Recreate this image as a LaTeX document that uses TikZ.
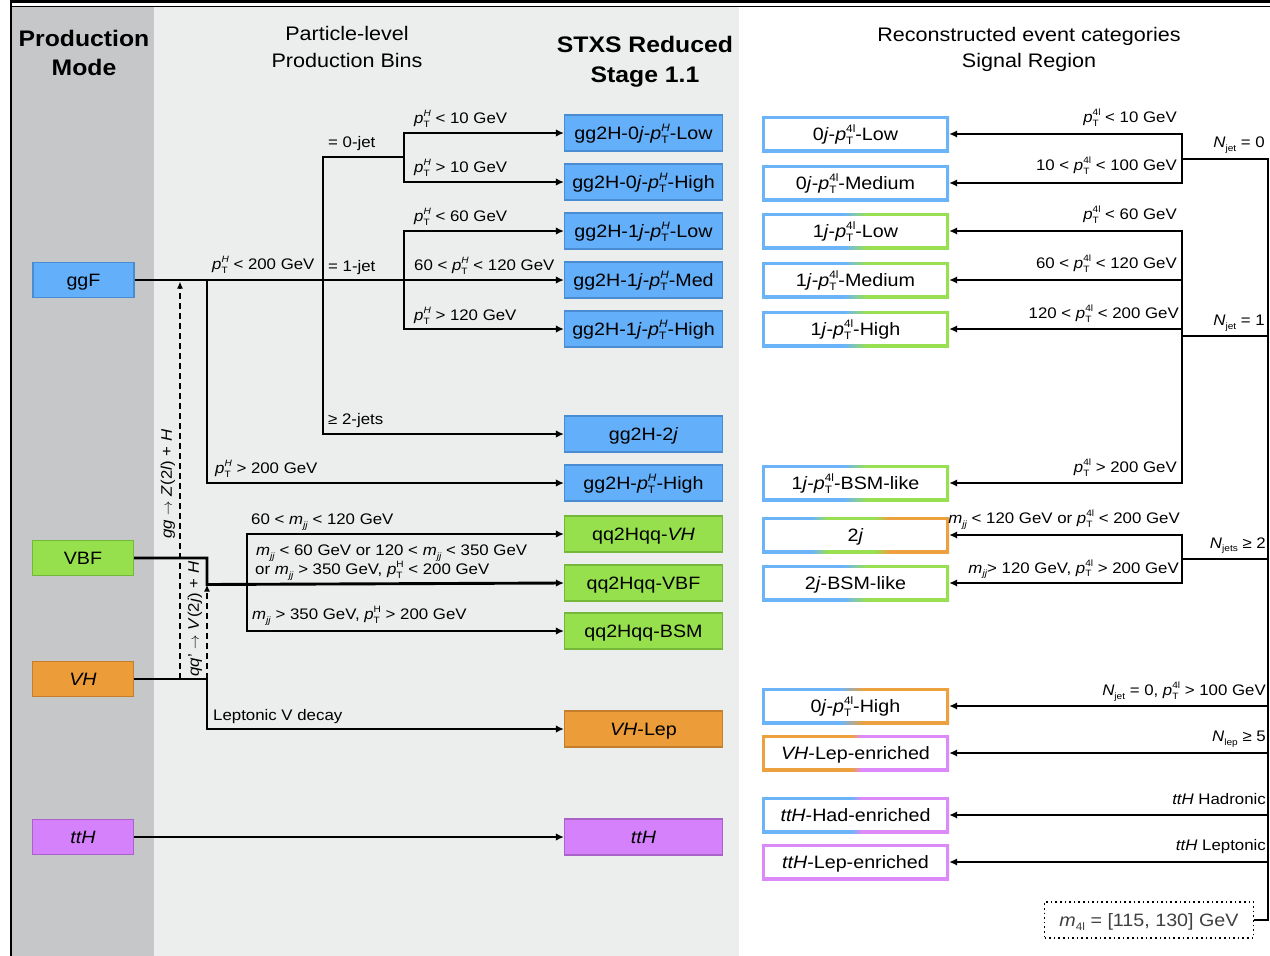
\documentclass[tikz,border=0pt]{standalone}
\usepackage{fontspec}
\setmainfont{Liberation Sans}[FakeStretch=1.1]
\usepackage{graphicx}
\usetikzlibrary{arrows.meta}

\definecolor{bgdark}{HTML}{C6C7C9}
\definecolor{bglight}{HTML}{ECEDED}
\definecolor{fblue}{HTML}{64AFF9}
\definecolor{dblue}{HTML}{4A8CD2}
\definecolor{fgreen}{HTML}{96E04E}
\definecolor{dgreen}{HTML}{74B83A}
\definecolor{forange}{HTML}{EC9C38}
\definecolor{dorange}{HTML}{C47E2C}
\definecolor{fpurple}{HTML}{D581FB}
\definecolor{dpurple}{HTML}{A862C8}
\definecolor{rb}{HTML}{6CB4F9}
\definecolor{rg}{HTML}{98E052}
\definecolor{ro}{HTML}{EDA03E}
\definecolor{rp}{HTML}{DC8AF9}

\pgfdeclarehorizontalshading{shB}{100bp}{color(0bp)=(rb); color(100bp)=(rb)}
\pgfdeclarehorizontalshading{shP}{100bp}{color(0bp)=(rp); color(100bp)=(rp)}
\pgfdeclarehorizontalshading{shBG}{100bp}{color(0bp)=(rb); color(47bp)=(rb); color(53bp)=(rg); color(100bp)=(rg)}
\pgfdeclarehorizontalshading{shBGO}{100bp}{color(0bp)=(rb); color(38.4bp)=(rb); color(42.6bp)=(rg); color(55.2bp)=(rg); color(59bp)=(ro); color(100bp)=(ro)}
\pgfdeclarehorizontalshading{shBO}{100bp}{color(0bp)=(rb); color(46bp)=(rb); color(52bp)=(ro); color(100bp)=(ro)}
\pgfdeclarehorizontalshading{shOP}{100bp}{color(0bp)=(ro); color(49bp)=(ro); color(51.5bp)=(rp); color(100bp)=(rp)}
\pgfdeclarehorizontalshading{shBP}{100bp}{color(0bp)=(rb); color(49bp)=(rb); color(51.5bp)=(rp); color(100bp)=(rp)}

\newcommand{\myLo}[1]{\raisebox{-0.45ex}{\scalebox{0.6}{#1}}}
\newcommand{\myHi}[1]{\raisebox{0.85ex}{\scalebox{0.6}{#1}}}
\newcommand{\myLoHi}[2]{\rlap{\myLo{#1}}\myHi{#2}}
\newcommand{\pTH}{\textit{p}\myLoHi{T}{\textit{H}}}
\newcommand{\pTHr}{\textit{p}\myLoHi{T}{H}}
\newcommand{\pTf}{\textit{p}\myLoHi{T}{4l}}
\newcommand{\mjj}{\textit{m}\myLo{\textit{jj}}}
\newcommand{\Nj}[1]{\textit{N}\myLo{#1}}

\newcommand{\fsLab}{\fontsize{15.3}{18}\selectfont}
\newcommand{\fsBox}{\fontsize{17.9}{21}\selectfont}
\newcommand{\fsHead}{\fontsize{19.6}{24}\selectfont}
\newcommand{\fsBold}{\fontsize{22.5}{27}\selectfont\bfseries}

\begin{document}
\begin{tikzpicture}[x=1pt,y=-1pt,
  conn/.style={line width=2.9pt, -{Latex[length=8pt,width=7.5pt]}},
  ln/.style={line width=2.9pt},
  dsh/.style={line width=1.8pt, dash pattern=on 6pt off 4pt, -{Latex[length=7pt,width=6pt]}},
  lab/.style={anchor=base west, inner sep=0pt, font=\fsLab},
  labr/.style={anchor=base east, inner sep=0pt, font=\fsLab},
  hb/.style={anchor=base, inner sep=0pt, font=\fsBold},
  hn/.style={anchor=base, inner sep=0pt, font=\fsHead},
  pm/.style={minimum width=101pt, minimum height=35pt, inner sep=0pt, font=\fsBox, text height=12.8pt, text depth=0pt, line width=1.2pt},
  stxs/.style={minimum width=158pt, minimum height=36pt, inner sep=0pt, font=\fsBox, text height=12.8pt, text depth=0pt, line width=1.2pt},
  sblue/.style={stxs, fill=fblue, draw=dblue},
  sgreen/.style={stxs, fill=fgreen, draw=dgreen},
  sorange/.style={stxs, fill=forange, draw=dorange},
  spurple/.style={stxs, fill=fpurple, draw=dpurple},
  reco/.style={minimum width=187pt, minimum height=36pt, inner sep=0pt, font=\fsBox, text height=12.8pt, text depth=0pt,
    path picture={\fill[white] ([shift={(2.6pt,-2.6pt)}]path picture bounding box.north west) rectangle ([shift={(-2.6pt,2.6pt)}]path picture bounding box.south east);}},
]
\useasboundingbox (0,0) rectangle (1270,956);

% panels and frame
\fill[bgdark] (12,7) rectangle (154,956);
\fill[bglight] (154,7) rectangle (739,956);
\draw[line width=3pt] (10,1.5) -- (1270,1.5);
\draw[line width=1.5pt] (10,6.5) -- (1270,6.5);
\draw[line width=2.5pt] (11.2,0) -- (11.2,956);

% headers
\node[hb] (h1a) at (84,46) {Production};
\node[hb] (h1b) at (84,75) {Mode};
\node[hn] (h2a) at (347,40) {Particle-level};
\node[hn] (h2b) at (347,67) {Production Bins};
\node[hb] (h3a) at (645,52) {STXS Reduced};
\node[hb] (h3b) at (645,82) {Stage 1.1};
\node[hn] (h4a) at (1029,41) {Reconstructed event categories};
\node[hn] (h4b) at (1029,67) {Signal Region};

% production modes
\node[pm, fill=fblue, draw=dblue] (ggF) at (83.5,280) {ggF};
\node[pm, fill=fgreen, draw=dgreen] (VBF) at (83,558) {VBF};
\node[pm, fill=forange, draw=dorange] (VH) at (83,679) {\textit{VH}};
\node[pm, fill=fpurple, draw=dpurple] (ttH) at (83,837) {\textit{ttH}};

% STXS bins
\node[sblue] (s0l) at (643.5,133) {gg2H-0\textit{j}-\pTH-Low};
\node[sblue] (s0h) at (643.5,182) {gg2H-0\textit{j}-\pTH-High};
\node[sblue] (s1l) at (643.5,231) {gg2H-1\textit{j}-\pTH-Low};
\node[sblue] (s1m) at (643.5,280) {gg2H-1\textit{j}-\pTH-Med};
\node[sblue] (s1h) at (643.5,329) {gg2H-1\textit{j}-\pTH-High};
\node[sblue] (s2j) at (643.5,434) {gg2H-2\textit{j}};
\node[sblue] (sph) at (643.5,483) {gg2H-\pTH-High};
\node[sgreen] (qvh) at (643.5,534) {qq2Hqq-\textit{VH}};
\node[sgreen] (qvbf) at (643.5,583) {qq2Hqq-VBF};
\node[sgreen] (qbsm) at (643.5,631) {qq2Hqq-BSM};
\node[sorange] (vhl) at (643.5,729) {\textit{VH}-Lep};
\node[spurple] (stth) at (643.5,837) {\textit{ttH}};

% reco categories
\node[reco, shading=shB] (r0l) at (855.5,134) {0\textit{j}-\pTf-Low};
\node[reco, shading=shB] (r0m) at (855.5,183) {0\textit{j}-\pTf-Medium};
\node[reco, shading=shBG] (r1l) at (855.5,231) {1\textit{j}-\pTf-Low};
\node[reco, shading=shBG] (r1m) at (855.5,280) {1\textit{j}-\pTf-Medium};
\node[reco, shading=shBG] (r1h) at (855.5,329) {1\textit{j}-\pTf-High};
\node[reco, shading=shBG] (r1b) at (855.5,483) {1\textit{j}-\pTf-BSM-like};
\node[reco, shading=shBGO] (r2j) at (855.5,535) {2\textit{j}};
\node[reco, shading=shBG] (r2b) at (855.5,583) {2\textit{j}-BSM-like};
\node[reco, shading=shBO] (r0h) at (855.5,706) {0\textit{j}-\pTf-High};
\node[reco, shading=shOP] (rvh) at (855.5,753) {\textit{VH}-Lep-enriched};
\node[reco, shading=shBP] (rtth) at (855.5,815) {\textit{ttH}-Had-enriched};
\node[reco, shading=shP] (rttl) at (855.5,862) {\textit{ttH}-Lep-enriched};

\node[draw, line width=1.6pt, dash pattern=on 1.6pt off 3pt, fill=white, minimum width=209pt, minimum height=36pt, inner sep=0pt, font=\fsBox, text height=12.8pt, text depth=0pt, text=black!75] (m4l) at (1149,920) {\textit{m}\myLo{4l} = [115, 130] GeV};

% junction coordinates (left)
\coordinate (jA) at (207,280);
\coordinate (jB) at (323,280);
\coordinate (jC) at (323,157);
\coordinate (jD) at (404,157);
\coordinate (jE) at (404,280);
\coordinate (jF) at (247,583);
\coordinate (jG) at (180,679);
\coordinate (jH) at (207,679);
\coordinate (tG) at (180,281.5);
\coordinate (tH) at (207,584.5);

% ggF tree
\draw[conn] (ggF.east) -- (s1m.west);
\draw[conn] (jA) |- (sph.west);
\draw[ln] (jB) -- (jC) -- (jD);
\draw[conn] (jB) |- (s2j.west);
\draw[conn] (jD) |- (s0l.west);
\draw[conn] (jD) |- (s0h.west);
\draw[conn] (jE) |- (s1l.west);
\draw[conn] (jE) |- (s1h.west);

% VBF tree
\draw[conn] (VBF.east) -| (tH) -- (qvbf.west);
\draw[conn] (jF) |- (qvh.west);
\draw[conn] (jF) |- (qbsm.west);

% VH
\draw[conn] (VH.east) -| (207,729) -- (vhl.west);
\draw[dsh] (jG) -- (tG);
\draw[dsh] (jH) -- (tH);

% ttH
\draw[conn] (ttH.east) -- (stth.west);

% left labels
\node[lab] (l0jet) at (328,147.5) {= 0-jet};
\node[lab] (lpa) at (414,123.5) {\pTH{} < 10 GeV};
\node[lab] (lpb) at (414,172.5) {\pTH{} > 10 GeV};
\node[lab] (lpc) at (414,221.5) {\pTH{} < 60 GeV};
\node[lab] (lpd) at (414,270.5) {60 < \pTH{} < 120 GeV};
\node[lab] (lpe) at (414,320.5) {\pTH{} > 120 GeV};
\node[lab] (lpf) at (212,269.5) {\pTH{} < 200 GeV};
\node[lab] (l1jet) at (328,271.5) {= 1-jet};
\node[lab] (l2jet) at (328,424.5) {≥ 2-jets};
\node[lab] (lpg) at (215,473.5) {\pTH{} > 200 GeV};
\node[lab] (lm1) at (251,524.5) {60 < \mjj{} < 120 GeV};
\node[lab] (lm2) at (256,555.5) {\mjj{} < 60 GeV or 120 < \mjj{} < 350 GeV};
\node[lab] (lm3) at (255,574.5) {or \mjj{} > 350 GeV, \pTHr{} < 200 GeV};
\node[lab] (lm4) at (252,619.5) {\mjj{} > 350 GeV, \pTHr{} > 200 GeV};
\node[lab] (llep) at (213,720) {Leptonic V decay};
\node[rotate=90, inner sep=0pt, font=\fsLab] (lz) at (168,484) {\textit{gg} $\rightarrow$ \textit{Z}(2\textit{l}) + \textit{H}};
\node[rotate=90, inner sep=0pt, font=\fsLab] (lv) at (195,619) {\textit{qq}' $\rightarrow$ \textit{V}(2\textit{j}) + \textit{H}};

% right connectors
\coordinate (t0) at (1268,159);
\coordinate (k0) at (1182,159);
\coordinate (t1) at (1268,336);
\coordinate (k1) at (1182,336);
\coordinate (t2) at (1268,559);
\coordinate (k2) at (1182,559);
\draw[ln] (m4l.east) -- (1268,920) -- (t0) -- (k0);
\draw[conn] (k0) |- (r0l.east);
\draw[conn] (k0) |- (r0m.east);
\draw[ln] (t1) -- (k1);
\draw[conn] (k1) |- (r1l.east);
\draw[conn] (k1) |- (r1m.east);
\draw[conn] (k1) |- (r1h.east);
\draw[conn] (k1) |- (r1b.east);
\draw[ln] (t2) -- (k2);
\draw[conn] (k2) |- (r2j.east);
\draw[conn] (k2) |- (r2b.east);
\draw[conn] (1268,706) -- (r0h.east);
\draw[conn] (1268,753) -- (rvh.east);
\draw[conn] (1268,815) -- (rtth.east);
\draw[conn] (1268,862) -- (rttl.east);

% right labels
\node[labr] (ra) at (1177,122.5) {\pTf{} < 10 GeV};
\node[labr] (rb) at (1177,170.5) {10 < \pTf{} < 100 GeV};
\node[labr] (rN0) at (1265,147.5) {\Nj{jet} = 0};
\node[labr] (rc) at (1177,219.5) {\pTf{} < 60 GeV};
\node[labr] (rd) at (1177,268.5) {60 < \pTf{} < 120 GeV};
\node[labr] (re) at (1179,318.5) {120 < \pTf{} < 200 GeV};
\node[labr] (rN1) at (1265,325.5) {\Nj{jet} = 1};
\node[labr] (rf) at (1177,472.5) {\pTf{} > 200 GeV};
\node[labr] (rg) at (1180,523.5) {\mjj{} < 120 GeV or \pTf{} < 200 GeV};
\node[labr] (rN2) at (1266,548) {\Nj{jets} ≥ 2};
\node[labr] (rh) at (1179,573) {\mjj{}> 120 GeV, \pTf{} > 200 GeV};
\node[labr] (ri) at (1266,695.5) {\Nj{jet} = 0, \pTf{} > 100 GeV};
\node[labr] (rNl) at (1266,741.5) {\Nj{lep} ≥ 5};
\node[labr] (rj) at (1266,804) {\textit{ttH} Hadronic};
\node[labr] (rk) at (1266,850) {\textit{ttH} Leptonic};
\end{tikzpicture}
\end{document}
